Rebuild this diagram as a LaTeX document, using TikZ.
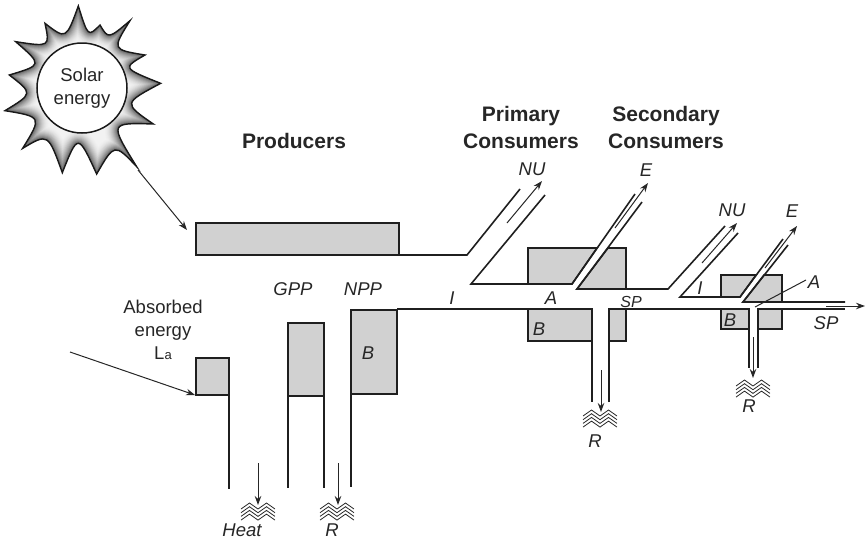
\documentclass[tikz,border=0pt]{standalone}
\usepackage{fontspec}
\setmainfont{Liberation Sans}
\usetikzlibrary{arrows.meta,calc}
\newcommand{\szseg}[3]{.. controls ($(#2)!-0.3333!($(#1)!.5!(#3)$)$) and ($(#2)!-0.3333!($(#1)!.5!(#3)$)$) .. (#3)}
\newcommand{\sunpath}{(t0) \szseg{t0}{v0}{t1} \szseg{t1}{v1}{t2} \szseg{t2}{v2}{t3} \szseg{t3}{v3}{t4} \szseg{t4}{v4}{t5} \szseg{t5}{v5}{t6} \szseg{t6}{v6}{t7} \szseg{t7}{v7}{t8} \szseg{t8}{v8}{t9} \szseg{t9}{v9}{t10} \szseg{t10}{v10}{t11} \szseg{t11}{v11}{t12} \szseg{t12}{v12}{t13} \szseg{t13}{v13}{t0} -- cycle}
\definecolor{boxgray}{gray}{0.82}
\tikzset{
  x=1pt,y=-1pt,
  flow/.style={draw=black!88,line width=1.6pt,line cap=butt,line join=miter},
  grayfill/.style={fill=boxgray,draw=black!88,line width=1.6pt,line join=miter},
  thin arrow/.style={draw=black!85,line width=1pt,-{Stealth[length=9pt,width=6.5pt]}},
  head/.style={font=\fontsize{21}{27}\selectfont\bfseries,align=center,text=black!85,inner sep=0pt},
  ital/.style={font=\fontsize{18.5}{22}\selectfont\itshape,text=black!85,inner sep=0pt},
  plain/.style={font=\fontsize{18.5}{23}\selectfont,align=center,text=black!85,inner sep=0pt},
  wavy zig/.pic={
    \foreach \k in {0,1,2,3}{
      \draw[black!85,line width=.8pt,line join=miter] (-17,6+3.7*\k) -- (-8.5,0+3.7*\k) -- (0,6+3.7*\k) -- (8.5,0+3.7*\k) -- (17,6+3.7*\k);
    }
  }
}
\begin{document}
\begin{tikzpicture}
\useasboundingbox (0,0) rectangle (865,539);
% sun outline points
\begin{scope}[x=.33333pt,y=-.33333pt]
\coordinate (t0) at (235,18);  \coordinate (v0) at (265,95);
\coordinate (t1) at (300,75);  \coordinate (v1) at (330,105);
\coordinate (t2) at (390,62);  \coordinate (v2) at (355,140);
\coordinate (t3) at (435,165); \coordinate (v3) at (390,205);
\coordinate (t4) at (482,250); \coordinate (v4) at (395,310);
\coordinate (t5) at (460,372); \coordinate (v5) at (355,385);
\coordinate (t6) at (410,500); \coordinate (v6) at (345,450);
\coordinate (t7) at (290,522); \coordinate (v7) at (235,430);
\coordinate (t8) at (187,518); \coordinate (v8) at (140,420);
\coordinate (t9) at (68,445);  \coordinate (v9) at (105,360);
\coordinate (t10) at (15,332); \coordinate (v10) at (80,280);
\coordinate (t11) at (28,225); \coordinate (v11) at (105,190);
\coordinate (t12) at (47,125); \coordinate (v12) at (135,130);
\coordinate (t13) at (135,70); \coordinate (v13) at (195,100);
\end{scope}
\begin{scope}
\clip \sunpath;
\fill[black!5] (0,0) rectangle (170,180);
\foreach \w in {30,28,...,2}{
  \pgfmathsetmacro{\g}{5+62*(1-\w/30)^2}
  \draw[line width=\w pt,line join=round,color={black!\g!white}] \sunpath;
}
\end{scope}
\draw[black!90,line width=1.4pt,line join=miter,miter limit=20] \sunpath;
\node[circle,draw=black!90,fill=white,line width=1.5pt,minimum size=90pt,inner sep=0pt,plain] (sun) at (82,88) {Solar\\energy};

% gray boxes
\fill[grayfill] (196,223) rectangle (399,255);
\fill[grayfill] (196,358) rectangle (229,395);
\fill[grayfill] (288,323) rectangle (324,396);
\fill[grayfill] (351,310) rectangle (397,394);
% primary
\fill[grayfill] (528,284) -- (528,248) -- (597,248) -- (572,284) -- cycle;
\fill[grayfill] (608,248) -- (626,248) -- (626,289) -- (577,289) -- cycle;
\fill[grayfill] (528,309) rectangle (592,341);
\fill[grayfill] (609,309) rectangle (626,341);
% secondary
\fill[grayfill] (721,297) -- (721,275) -- (756,275) -- (740,297) -- cycle;
\fill[grayfill] (764,275) -- (782,275) -- (782,302) -- (743,302) -- cycle;
\fill[grayfill] (721,309) rectangle (749,329);
\fill[grayfill] (758,309) rectangle (782,329);

% flow lines
\draw[flow] (229,395) -- (229,489);
\draw[flow] (288,396) -- (288,488);
\draw[flow] (324,396) -- (324,488);
\draw[flow] (351,394) -- (351,487);
\draw[flow] (399,255) -- (467,255) -- (520,189);
\draw[flow] (545,195) -- (471,284) -- (572,284) -- (635,194);
\draw[flow] (642,202) -- (577,289) -- (668,289) -- (725,226);
\draw[flow] (738,233) -- (680,297) -- (740,297) -- (783,239);
\draw[flow] (788,245) -- (743,302) -- (845,302);
\draw[flow] (397,309) -- (592,309) -- (592,402);
\draw[flow] (609,402) -- (609,309) -- (749,309) -- (749,368);
\draw[flow] (758,368) -- (758,309) -- (845,309);

% arrow end points
\coordinate (solarA) at (138,170); \coordinate (solarB) at (187,230);
\coordinate (absA) at (70,352);   \coordinate (absB) at (195,395);
\coordinate (heatA) at (258,463); \coordinate (heatB) at (258,505);
\coordinate (respA) at (338,463); \coordinate (respB) at (338,505);
\coordinate (nuA) at (507,223);   \coordinate (nuB) at (542,181);
\coordinate (eA) at (615,228);    \coordinate (eB) at (648,183);
\coordinate (rpA) at (601,370);   \coordinate (rpB) at (601,412);
\coordinate (nusA) at (702,263);  \coordinate (nusB) at (737,223);
\coordinate (esA) at (765,268);   \coordinate (esB) at (797,226);
\coordinate (rsA) at (753,337);   \coordinate (rsB) at (753,378);
\coordinate (spA) at (826,306);   \coordinate (spB) at (865,306);
\coordinate (ptrA) at (755,307);  \coordinate (ptrB) at (806,280);

\draw[thin arrow] (solarA) -- (solarB);
\draw[thin arrow] (absA) -- (absB);
\draw[thin arrow] (heatA) -- (heatB);
\draw[thin arrow] (respA) -- (respB);
\draw[thin arrow] (nuA) -- (nuB);
\draw[thin arrow] (eA) -- (eB);
\draw[thin arrow] (rpA) -- (rpB);
\draw[thin arrow] (nusA) -- (nusB);
\draw[thin arrow] (esA) -- (esB);
\draw[thin arrow] (rsA) -- (rsB);
\draw[thin arrow] (spA) -- (spB);
\draw[black!85,line width=1pt] (ptrA) -- (ptrB);

% wavy heat marks
\pic at (258,503) {wavy zig};
\pic at (337,503) {wavy zig};
\pic at (600,410) {wavy zig};
\pic at (753,380) {wavy zig};

% labels
\node[head] (producers) at (294,141) {Producers};
\node[head] (primary) at (521,127.5) {Primary\\Consumers};
\node[head] (secondary) at (666,127.5) {Secondary\\Consumers};
\node[plain] (absorbed) at (163,330) {Absorbed\\energy\\L{\fontsize{13}{13}\selectfont a}};
\node[ital] (gpp) at (293,289) {GPP};
\node[ital] (npp) at (363,289) {NPP};
\node[ital] (bp) at (368,353) {B};
\node[ital] (heat) at (242,530) {Heat};
\node[ital] (rp) at (332,530) {R};
\node[ital] (nu1) at (532,169) {NU};
\node[ital] (e1) at (646,170) {E};
\node[ital] (i1) at (452,298) {I};
\node[ital] (a1) at (551,298) {A};
\node[ital,font=\fontsize{16}{18}\selectfont\itshape] (sp1) at (631,302) {SP};
\node[ital] (b1) at (539,329) {B};
\node[ital] (r1) at (595,441) {R};
\node[ital] (nu2) at (732,210) {NU};
\node[ital] (e2) at (792,211) {E};
\node[ital] (i2) at (700,288) {I};
\node[ital] (a2) at (814,282) {A};
\node[ital] (b2) at (730,320) {B};
\node[ital] (sp2) at (826,323) {SP};
\node[ital] (r2) at (749,406) {R};
\end{tikzpicture}
\end{document}
